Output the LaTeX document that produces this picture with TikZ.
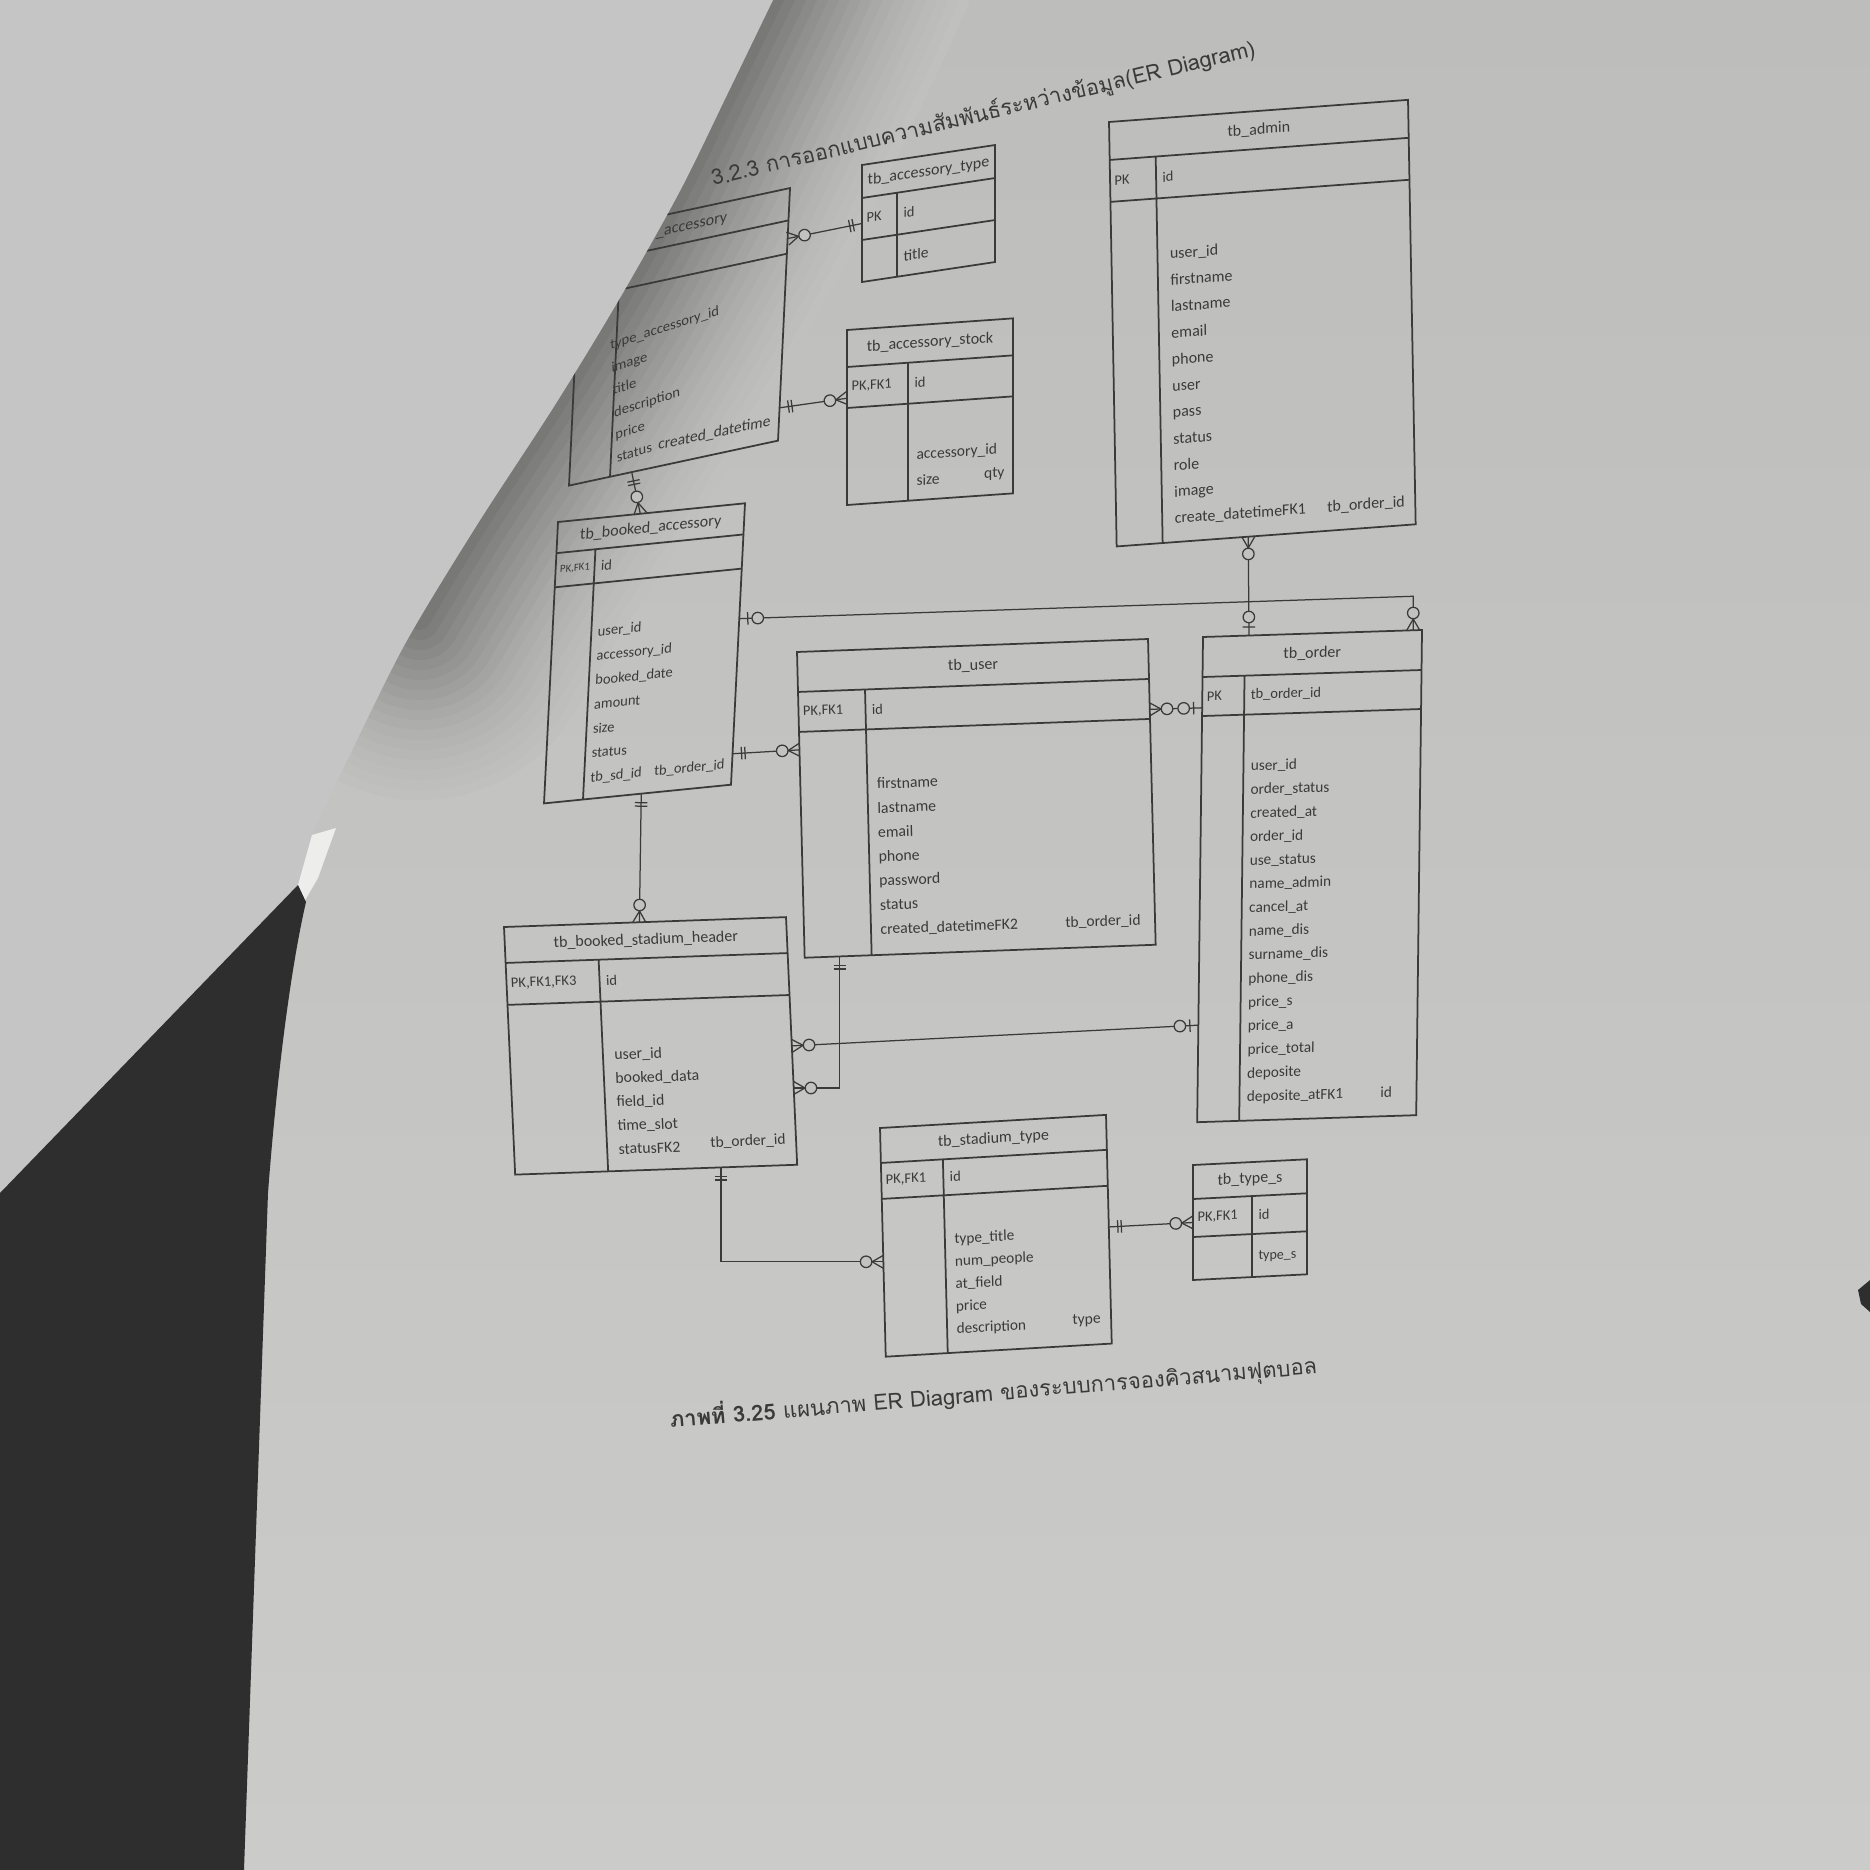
\documentclass[tikz,border=0pt]{standalone}
\usepackage{fontspec}
\setmainfont{Carlito}
\newfontfamily\thaifont[Script=Thai]{Loma}
\usetikzlibrary{calc,decorations.markings}

\definecolor{inkc}{HTML}{3A3A3A}
\definecolor{paper}{HTML}{C2C2C0}
\definecolor{pagetop}{HTML}{BDBDBB}
\definecolor{pagebot}{HTML}{CBCBC9}
\definecolor{pagemid}{HTML}{C0C0BE}
\definecolor{curlc}{HTML}{C5C5C5}
\definecolor{darkc}{HTML}{2E2E2E}
\definecolor{shadowc}{HTML}{5A5A5A}

% outline node, title band, key row and key column of one ER table
% #1 name, #2 width, #3 height, #4 title band, #5 key row, #6 key column, #7 title
\newcommand\ergrid[7]{%
  \node[tab, minimum width=#2*0.4pt, minimum height=#3*0.4pt] (#1) at (0,0) {};
  \draw[grid] (0,#4) -- (#2,#4) (0,#4+#5) -- (#2,#4+#5) (#6,#4) -- (#6,#3);
  \node[ttl] (#1-t) at (#2/2,#4/2) {#7};
}
% the same with the key label and key field: #8 key label, #9 key field
\newcommand\ertab[9]{%
  \ergrid{#1}{#2}{#3}{#4}{#5}{#6}{#7}%
  \node[kt] (#1-k) at (4,#4+#5/2) {#8};
  \node[kt] (#1-p) at (#6+6,#4+#5/2) {#9};
}

\tikzset{
  tab/.style={draw=inkc, line width=0.7pt, anchor=north west, inner sep=0pt, outer sep=0pt},
  grid/.style={draw=inkc, line width=0.7pt},
  ttl/.style={font=\fontsize{6.4}{7}\selectfont, text=inkc, inner sep=0pt},
  kt/.style={font=\fontsize{5.8}{7}\selectfont, text=inkc, anchor=west, inner sep=0pt},
  flds/.style={font=\fontsize{6.2}{9.6}\selectfont, text=inkc, align=left, inner sep=0pt, anchor=south west},
  fldr/.style={font=\fontsize{6.2}{9.6}\selectfont, text=inkc, inner sep=0pt, anchor=south east},
  link/.style={draw=inkc, line width=0.5pt},
  mk/.style={draw=inkc, line width=0.5pt},
  % relation ends: e = at the end node, s = at the start node
  e one/.style={postaction={decorate,decoration={markings,mark=at position 1 with {
      \draw[mk] (-3.6pt,-2.5pt)--(-3.6pt,2.5pt) (-5pt,-2.5pt)--(-5pt,2.5pt);}}}},
  s one/.style={postaction={decorate,decoration={markings,mark=at position 0 with {
      \draw[mk] (3.6pt,-2.5pt)--(3.6pt,2.5pt) (5pt,-2.5pt)--(5pt,2.5pt);}}}},
  e zmany/.style={postaction={decorate,decoration={markings,mark=at position 1 with {
      \draw[mk] (0pt,-2.6pt)--(-4.5pt,0pt)--(0pt,2.6pt);
      \draw[mk, fill=paper] (-6.9pt,0pt) circle[radius=2.3pt];}}}},
  s zmany/.style={postaction={decorate,decoration={markings,mark=at position 0 with {
      \draw[mk] (0pt,-2.6pt)--(4.5pt,0pt)--(0pt,2.6pt);
      \draw[mk, fill=paper] (6.9pt,0pt) circle[radius=2.3pt];}}}},
  e zone/.style={postaction={decorate,decoration={markings,mark=at position 1 with {
      \draw[mk] (-3.4pt,-2.5pt)--(-3.4pt,2.5pt);
      \draw[mk, fill=paper] (-7.4pt,0pt) circle[radius=2.3pt];}}}},
  s zone/.style={postaction={decorate,decoration={markings,mark=at position 0 with {
      \draw[mk] (3.4pt,-2.5pt)--(3.4pt,2.5pt);
      \draw[mk, fill=paper] (7.4pt,0pt) circle[radius=2.3pt];}}}},
}

\begin{document}
\begin{tikzpicture}[x=0.4pt, y=-0.4pt]
\useasboundingbox (0,0) rectangle (1870,1870);

% the sheet
\shade[top color=pagetop, bottom color=pagebot] (0,0) rectangle (1870,1870);

% shadow cast on the sheet along the curled corner
\foreach \k in {18,17,...,1}{
  \pgfmathtruncatemacro\mx{78*(1-\k/19)^1.6}
  \draw[line width=\k*8pt, line cap=round, shadowc!\mx!pagemid]
    plot[smooth] coordinates {(800,-60) (773,0) (727,95) (680,191) (620,298) (555,405) (477,525) (420,620)};
}

% heading and caption
\node[font=\thaifont\fontsize{8.7}{10}\selectfont, text=inkc, anchor=base west, rotate=13.5, inner sep=0pt]
  (head) at (713,186) {3.2.3 การออกแบบความสัมพันธ์ระหว่างข้อมูล(ER Diagram)};
\node[font=\thaifont\fontsize{8.8}{10}\selectfont, text=inkc, anchor=base west, rotate=4.8, inner sep=0pt]
  (cap) at (670,1428) {\textbf{ภาพที่ 3.25} แผนภาพ ER Diagram ของระบบการจองคิวสนามฟุตบอล};

% tb_accessory (its key column lies under the curled corner)
\begin{scope}[shift={(581,233)}, yslant=0.215, xslant=0.048, transform shape]
  \ergrid{acc}{209}{250}{32}{33}{41}{tb\_accessory}
  \node[flds, font=\fontsize{5.8}{9.2}\selectfont, rotate=6] (acc-f) at (47,238) {type\_accessory\_id\\image\\title\\description\\price\\status};
  \node[fldr] (acc-r) at (201,236) {created\_datetime};
\end{scope}

% tb_accessory_type
\begin{scope}[shift={(862,165)}, yslant=0.15, transform shape]
  \ertab{atype}{133}{117}{33}{42}{35}{tb\_accessory\_type}{PK}{id}
  \node[flds] (atype-f) at (41,103) {title};
\end{scope}

% tb_accessory_stock
\begin{scope}[shift={(847,330)}, yslant=0.07, transform shape]
  \ertab{stock}{166}{175}{37}{41}{61}{tb\_accessory\_stock}{PK,FK1}{id}
  \node[flds, font=\fontsize{6.2}{10.4}\selectfont] (stock-f) at (69,161) {accessory\_id\\size};
  \node[fldr] (stock-r) at (158,161) {qty};
\end{scope}

% tb_admin
\begin{scope}[shift={(1109,122)}, yslant=0.074, xslant=-0.018, transform shape]
  \ertab{admin}{299}{425}{38}{42}{46}{tb\_admin}{PK}{id}
  \node[flds, font=\fontsize{6.4}{10.6}\selectfont] (admin-f) at (58,409) {user\_id\\firstname\\lastname\\email\\phone\\user\\pass\\status\\role\\image\\create\_datetimeFK1};
  \node[fldr, font=\fontsize{6.4}{10.6}\selectfont] (admin-r) at (289,409) {tb\_order\_id};
\end{scope}

% tb_booked_accessory
\begin{scope}[shift={(558,522)}, yslant=0.1, xslant=0.05, transform shape]
  \ertab{bacc}{187}{280}{31}{34}{39}{tb\_booked\_accessory}{\fontsize{4.3}{5}\selectfont PK,FK1}{id}
  \node[flds, font=\fontsize{5.8}{9.7}\selectfont] (bacc-f) at (45,266) {user\_id\\accessory\_id\\booked\_date\\amount\\size\\status\\tb\_sd\_id};
  \node[fldr, font=\fontsize{5.8}{9.7}\selectfont] (bacc-r) at (180,266) {tb\_order\_id};
\end{scope}

% tb_user
\begin{scope}[shift={(797,652)}, yslant=0.037, xslant=-0.025, transform shape]
  \ertab{user}{351}{306}{40}{40}{67}{tb\_user}{PK,FK1}{id}
  \node[flds, font=\fontsize{6.3}{9.7}\selectfont] (user-f) at (76,288) {firstname\\lastname\\email\\phone\\password\\status\\created\_datetimeFK2};
  \node[fldr] (user-r) at (337,288) {tb\_order\_id};
\end{scope}

% tb_order
\begin{scope}[shift={(1203,637)}, yslant=0.032, xslant=0.012, transform shape]
  \ertab{order}{219}{485}{40}{39}{42}{tb\_order}{PK}{tb\_order\_id}
  \node[flds, font=\fontsize{6.1}{9.45}\selectfont] (order-f) at (49,469) {user\_id\\order\_status\\created\_at\\order\_id\\use\_status\\name\_admin\\cancel\_at\\name\_dis\\surname\_dis\\phone\_dis\\price\_s\\price\_a\\price\_total\\deposite\\deposite\_atFK1};
  \node[fldr, font=\fontsize{6.1}{9.45}\selectfont] (order-r) at (195,467) {id};
\end{scope}

% tb_booked_stadium_header
\begin{scope}[shift={(504,927)}, yslant=0.035, xslant=-0.045, transform shape]
  \ertab{bsh}{282}{248}{36}{42}{93}{tb\_booked\_stadium\_header}{PK,FK1,FK3}{id}
  \node[flds, font=\fontsize{6.3}{9.5}\selectfont] (bsh-f) at (104,232) {user\_id\\booked\_data\\field\_id\\time\_slot\\statusFK2};
  \node[fldr] (bsh-r) at (272,230) {tb\_order\_id};
\end{scope}

% tb_stadium_type
\begin{scope}[shift={(880,1128)}, yslant=0.058, xslant=-0.025, transform shape]
  \ertab{stad}{226}{229}{35}{36}{62}{tb\_stadium\_type}{PK,FK1}{id}
  \node[flds, font=\fontsize{6.1}{9}\selectfont] (stad-f) at (71,213) {type\_title\\num\_people\\at\_field\\price\\description};
  \node[fldr] (stad-r) at (216,211) {type};
\end{scope}

% tb_type_s
\begin{scope}[shift={(1193,1165)}, yslant=0.05, transform shape]
  \ertab{types}{114}{115}{34}{38}{59}{tb\_type\_s}{PK,FK1}{id}
  \node[flds, font=\fontsize{5.6}{7}\selectfont] (types-f) at (65,101) {type\_s};
\end{scope}

% relationships
\draw[link, s zmany, e one] ($(acc.north east)!0.2!(acc.south east)$) -- ($(atype.north west)!0.5!(atype.south west)$);
\draw[link, s one, e zmany] ($(acc.north east)!0.87!(acc.south east)$) -- ($(stock.north west)!0.39!(stock.south west)$);
\draw[link, s one, e zmany] ($(acc.south west)!0.3!(acc.south east)$) -- ($(bacc.north west)!0.44!(bacc.north east)$);
\draw[link, s zone, e zmany] ($(bacc.north east)!0.41!(bacc.south east)$)
  -- ($(order.north west)!0.96!(order.north east)+(0,-34)$) -- ($(order.north west)!0.96!(order.north east)$);
\draw[link, s zmany, e zone] ($(admin.south west)!0.44!(admin.south east)$) -- ($(order.north west)!0.21!(order.north east)$);
\draw[link, s one, e zmany] ($(bacc.north east)!0.89!(bacc.south east)$) -- ($(user.north west)!0.32!(user.south west)$);
\draw[link, s zmany, e zone] ($(user.north east)!0.23!(user.south east)$) -- ($(order.north west)!0.146!(order.south west)$);
\draw[link, s one, e zmany] ($(bacc.south west)!0.52!(bacc.south east)$) -- ($(bsh.north west)!0.48!(bsh.north east)$);
\draw[link, s one, e zmany] ($(user.south west)!0.1!(user.south east)$) |- ($(bsh.north east)!0.69!(bsh.south east)$);
\draw[link, s zone, e zmany] ($(order.north west)!0.8!(order.south west)$) -- ($(bsh.north east)!0.52!(bsh.south east)$);
\draw[link, s one, e zmany] ($(bsh.south west)!0.73!(bsh.south east)$) |- ($(stad.north west)!0.585!(stad.south west)$);
\draw[link, s one, e zmany] ($(stad.north east)!0.49!(stad.south east)$) -- ($(types.north west)!0.5!(types.south west)$);

% curled-back corner of the sheet
\fill[curlc] (0,0) -- (773,0)
  -- plot[smooth] coordinates {(773,0) (727,95) (680,191) (620,298) (555,405) (477,525) (405,644) (346,763) (312,835)}
  -- (298,885) -- (0,1193) -- cycle;
% bright rim where the sheet bends
\fill[white!70!paper] (312,835) -- (336,828) -- (318,878) -- (304,902) -- (298,885) -- cycle;
% dark desk beneath
\fill[darkc] (0,1193) -- (298,885) -- (306,902) .. controls (288,980) and (275,1100) .. (268,1193)
  -- (244,1870) -- (0,1870) -- cycle;
\fill[darkc] (1870,1280) -- (1858,1290) -- (1861,1304) -- (1870,1312) -- cycle;
\end{tikzpicture}
\end{document}
